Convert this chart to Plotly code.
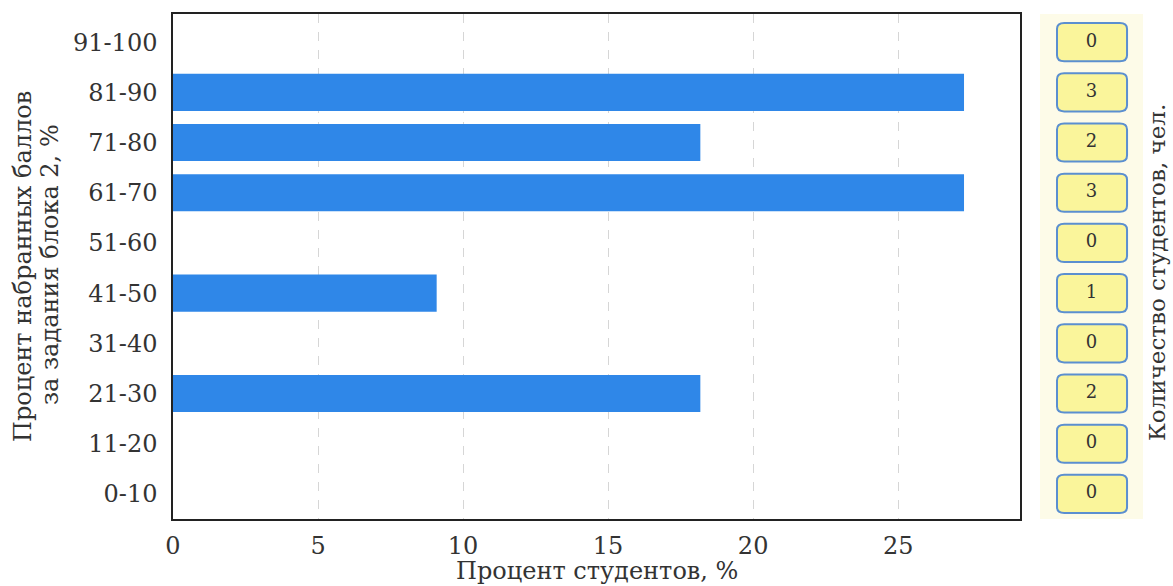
import plotly.graph_objects as go

categories = ["0-10", "11-20", "21-30", "31-40", "41-50", "51-60", "61-70", "71-80", "81-90", "91-100"]
percent_values = [0, 0, 18.18, 0, 9.09, 0, 27.27, 18.18, 27.27, 0]
student_counts = [0, 0, 2, 0, 1, 0, 3, 2, 3, 0]
x_ticks = [0, 5, 10, 15, 20, 25]

FONT = "DejaVu Serif"
FS = 24
TXT = "#333333"
W, H = 1173, 586
L, R, T, B = 173, 20, 14, 67
plot_w = W - L - R
plot_h = H - T - B
main_right = 1020
x_dom_end = (main_right - L) / plot_w
panel_x0 = (1040 - L) / plot_w
panel_x1 = (1143 - L) / plot_w

fig = go.Figure()
fig.add_trace(go.Bar(
    x=percent_values, y=list(range(len(categories))), orientation="h",
    marker=dict(color="#2f87e8", line=dict(width=0)), width=0.74,
    xaxis="x", yaxis="y", showlegend=False, hoverinfo="x+y",
))
# count labels in right panel
fig.add_trace(go.Scatter(
    x=[0.5] * len(categories), y=list(range(len(categories))),
    text=[str(c) for c in student_counts], mode="text",
    textfont=dict(family=FONT, size=18, color=TXT),
    xaxis="x2", yaxis="y", showlegend=False, hoverinfo="skip",
))

shapes = []
# panel background
shapes.append(dict(type="rect", xref="x2", yref="paper", x0=0, x1=1, y0=0, y1=1,
                   fillcolor="#fdfbe8", line=dict(width=0), layer="below"))

def rounded_path(x0, x1, y0, y1, rx, ry):
    return (f"M {x0+rx},{y0} L {x1-rx},{y0} Q {x1},{y0} {x1},{y0+ry} "
            f"L {x1},{y1-ry} Q {x1},{y1} {x1-rx},{y1} L {x0+rx},{y1} "
            f"Q {x0},{y1} {x0},{y1-ry} L {x0},{y0+ry} Q {x0},{y0} {x0+rx},{y0} Z")

bx0, bx1 = 0.165, 0.845
hh = 0.38
for i, _ in enumerate(categories):
    shapes.append(dict(type="path", xref="x2", yref="y", layer="below",
                       path=rounded_path(bx0, bx1, i - hh, i + hh, 0.07, 0.12),
                       fillcolor="#faf59b", line=dict(color="#5b8fd0", width=2)))

def px_x(px):
    return (px - L) / plot_w

def px_y(py):
    return 1 - (py - T) / plot_h

title_font = dict(family=FONT, size=FS, color=TXT)

fig.update_layout(
    width=W, height=H,
    margin=dict(l=L, r=R, t=T, b=B, autoexpand=False),
    paper_bgcolor="white", plot_bgcolor="rgba(0,0,0,0)",
    font=dict(family=FONT, size=FS, color=TXT),
    xaxis=dict(
        domain=[0, x_dom_end], range=[0, 29.2], tickvals=x_ticks,
        showgrid=True, gridcolor="#d6d6d6", griddash="dash", gridwidth=1,
        showline=True, linecolor="#222222", linewidth=1.5, mirror=True,
        ticks="", zeroline=False, ticklabelstandoff=4,
        tickfont=dict(family=FONT, size=FS, color=TXT),
    ),
    yaxis=dict(
        range=[-0.5, 9.56], tickvals=list(range(len(categories))), ticktext=categories,
        showgrid=False, showline=True, linecolor="#222222", linewidth=1.5, mirror=True,
        ticks="", zeroline=False, ticklabelstandoff=9,
        tickfont=dict(family=FONT, size=FS, color=TXT),
    ),
    xaxis2=dict(domain=[panel_x0, panel_x1], range=[0, 1], visible=False, anchor="y"),
    shapes=shapes,
    annotations=[
        dict(text="Процент студентов, %", xref="paper", yref="paper",
             x=x_dom_end / 2, y=px_y(571), xanchor="center", yanchor="middle",
             showarrow=False, font=title_font),
        dict(text="Процент набранных баллов", xref="paper", yref="paper",
             x=px_x(23), y=px_y(267), xanchor="center", yanchor="middle", textangle=-90,
             showarrow=False, font=title_font),
        dict(text="за задания блока 2, %", xref="paper", yref="paper",
             x=px_x(50), y=px_y(265), xanchor="center", yanchor="middle", textangle=-90,
             showarrow=False, font=title_font),
        dict(text="Количество студентов, чел.", xref="paper", yref="paper",
             x=px_x(1157), y=px_y(273), xanchor="center", yanchor="middle", textangle=-90,
             showarrow=False, font=dict(family=FONT, size=23, color=TXT)),
    ],
)

fig.write_html("out.html", config={"displayModeBar": False},
               post_script="document.body.style.margin='0';document.body.style.overflow='hidden';")
